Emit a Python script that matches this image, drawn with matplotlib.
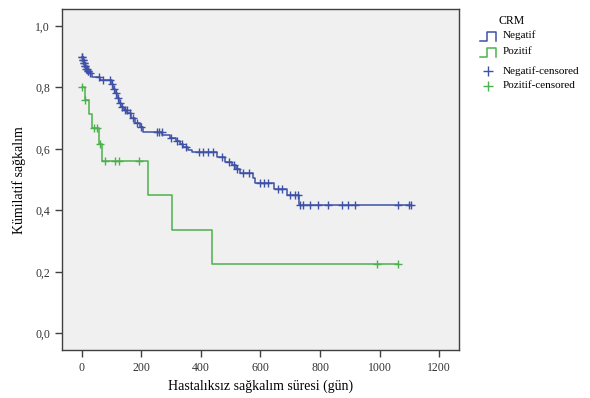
"""
Kaplan-Meier eğrisi: CRM durumuna göre hastalıksız sağkalım
"""

import numpy as np
import matplotlib
matplotlib.use("Agg")
import matplotlib.pyplot as plt
from matplotlib.lines import Line2D

plt.rcParams['font.family'] = ['Liberation Serif', 'DejaVu Serif']

# --- veriler ---
groups = ['Negatif', 'Pozitif']

# Negatif: basamak zamanları ve her basamaktan sonraki sağkalım
neg_times = [0, 3, 6, 9, 13, 18, 25, 35, 60, 100, 105, 112, 118, 125, 132, 140,
             152, 165, 180, 195, 205, 270, 295, 315, 330, 340, 355, 370, 455,
             480, 505, 518, 530, 575, 580, 645, 690, 730]
neg_surv = [0.900, 0.890, 0.880, 0.870, 0.860, 0.852, 0.845, 0.835, 0.825,
            0.810, 0.795, 0.780, 0.765, 0.750, 0.737, 0.725, 0.715, 0.700,
            0.685, 0.670, 0.655, 0.645, 0.635, 0.625, 0.615, 0.605, 0.597,
            0.588, 0.573, 0.558, 0.547, 0.535, 0.520, 0.505, 0.489, 0.470,
            0.450, 0.418]
neg_censored = [1, 2, 4, 5, 7, 8, 10, 12, 14, 16, 20, 22, 28, 58, 72, 94,
                102, 108, 115, 122, 128, 135, 145, 150, 160, 172, 185, 198,
                251, 259, 268, 300, 320, 335, 350, 393, 408, 423, 441, 470,
                495, 510, 522, 540, 560, 600, 612, 625, 660, 672, 700, 715,
                725, 733, 743, 766, 793, 827, 874, 894, 918, 1062, 1100, 1104]

# Pozitif
poz_times = [0, 10, 25, 35, 58, 66, 221, 302, 437]
poz_surv = [0.800, 0.758, 0.714, 0.668, 0.617, 0.560, 0.449, 0.337, 0.225]
poz_censored = [1, 12, 41, 51, 62, 77, 111, 125, 193, 992, 1062]

x_ticks = [0, 200, 400, 600, 800, 1000, 1200]
y_ticks = [0.0, 0.2, 0.4, 0.6, 0.8, 1.0]

colors = {'Negatif': '#3e51a6', 'Pozitif': '#4cb14c'}


def step_value(times, surv, t):
    """t anındaki sağkalım değeri (basamak fonksiyonu)"""
    idx = np.searchsorted(times, t, side='right') - 1
    return np.array(surv)[idx]


fig = plt.figure(figsize=(5.9, 3.98), dpi=100)
ax = fig.add_axes([0.105, 0.12, 0.673, 0.857])
ax.set_facecolor('#f0f0f0')

series = [
    ('Negatif', neg_times, neg_surv, neg_censored),
    ('Pozitif', poz_times, poz_surv, poz_censored),
]
for name, times, surv, cens in series:
    end = max(cens)
    xs = list(times) + [end]
    ys = list(surv) + [surv[-1]]
    ax.step(xs, ys, where='post', color=colors[name], linewidth=1.1)
    cens_y = step_value(times, surv, np.array(cens))
    ax.plot(cens, cens_y, linestyle='none', marker='+', markersize=6,
            markeredgewidth=1.0, color=colors[name])

ax.set_xlim(-67, 1267)
ax.set_ylim(-0.055, 1.054)
ax.set_xticks(x_ticks)
ax.set_yticks(y_ticks)
ax.set_xticklabels([str(v) for v in x_ticks])
ax.set_yticklabels([f'{v:.1f}'.replace('.', ',') for v in y_ticks])
ax.tick_params(direction='out', length=5, width=1.0, color='#404040',
               labelsize=8.5, labelcolor='#333333')

for side in ['left', 'right', 'top', 'bottom']:
    ax.spines[side].set_color('#404040')
    ax.spines[side].set_linewidth(1.0)

ax.set_xlabel('Hastalıksız sağkalım süresi (gün)', fontsize=10, labelpad=4)
ax.set_ylabel('Kümilatif sağkalım', fontsize=10, labelpad=7)

# --- legend (elle çizilmiş, SPSS tarzı) ---
W, H = 590.0, 398.0


def fx(px):
    return px / W


def fy(py):
    return 1 - py / H


fig.text(fx(512), fy(21), 'CRM', fontsize=8.5, ha='center', va='center')
for i, name in enumerate(groups):
    yb = 41 + i * 16
    xs = [480, 487, 487, 496, 496]
    ys = [yb, yb, yb - 9, yb - 9, yb]
    fig.add_artist(Line2D([fx(v) for v in xs], [fy(v) for v in ys],
                          color=colors[name], linewidth=1.1))
    fig.text(fx(503), fy(yb - 6), name, fontsize=8, ha='left', va='center')
for i, name in enumerate(groups):
    yc = 71 + i * 15
    fig.add_artist(Line2D([fx(488)], [fy(yc)], marker='+', markersize=7,
                          markeredgewidth=1.0, color=colors[name],
                          linestyle='none'))
    fig.text(fx(503), fy(yc), name + '-censored', fontsize=8,
             ha='left', va='center')

fig.savefig('out.png', dpi=100)
